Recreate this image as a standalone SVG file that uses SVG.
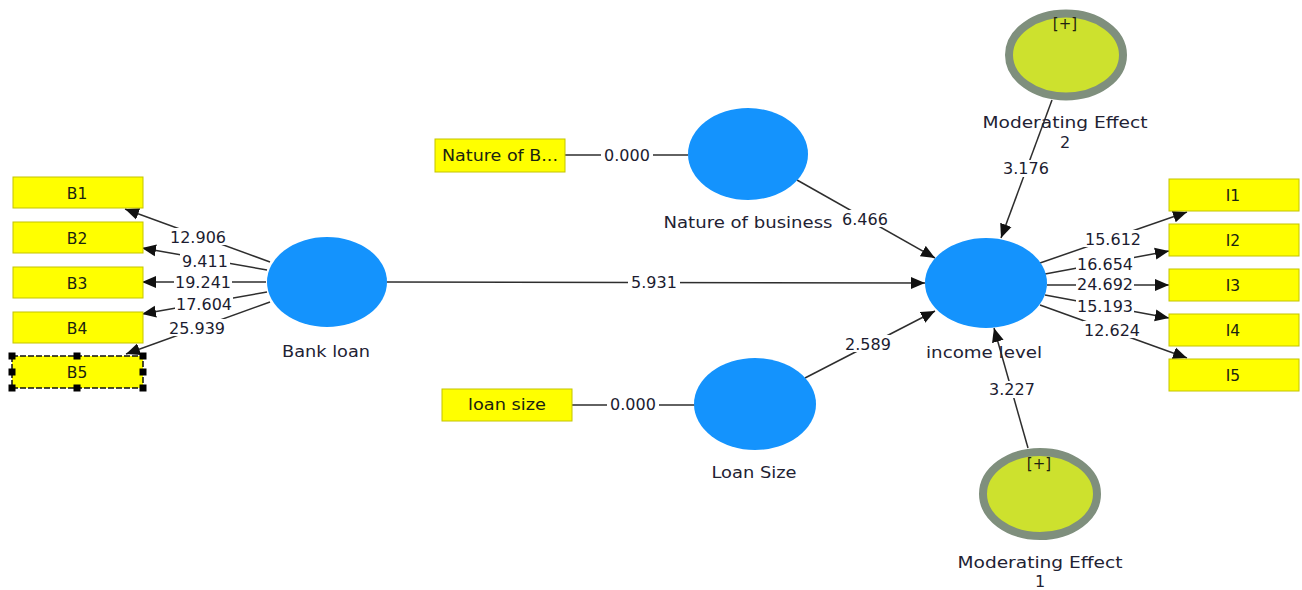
<svg xmlns="http://www.w3.org/2000/svg" width="1302" height="590" viewBox="0 0 1302 590">
  <style>
    .ind rect { fill: #ffff00; stroke: #c4c400; stroke-width: 1; }
    .ind text { font-family: "DejaVu Sans", sans-serif; font-size: 15.5px; fill: #1a2410; text-anchor: middle; }
    .lv { fill: #1493fd; }
    .mod { fill: #cde12e; stroke: #7f8f7d; stroke-width: 8; }
    .lbl { font-family: "DejaVu Sans", sans-serif; font-size: 16px; fill: #222233; text-anchor: middle; }
    .plus { font-family: "DejaVu Sans", sans-serif; font-size: 15px; fill: #1f2410; text-anchor: middle; }
    .edge { stroke: #2e2e2e; stroke-width: 1.5; fill: none; }
    .arr { marker-end: url(#head); }
    .val rect { fill: #fff; }
    .val text { font-family: "DejaVu Sans", sans-serif; font-size: 16px; fill: #1c1c30; text-anchor: middle; }
    .ind rect.sel { fill: #ffff00; stroke: #111; stroke-width: 1.5; stroke-dasharray: 6 2; }
    .ind rect.handle { fill: #000; stroke: none; }
  </style>
  <defs>
    <marker id="head" markerUnits="userSpaceOnUse" markerWidth="15" markerHeight="13" refX="14" refY="6.5" orient="auto">
      <path d="M0,0.5 L14,6.5 L0,12.5 z" fill="#111"/>
    </marker>
  </defs>

  <rect width="1302" height="590" fill="#fff"/>

  <!-- connectors -->
  <g id="connectors">
    <!-- Bank loan outer loadings -->
    <line class="edge arr" x1="270" y1="262" x2="125" y2="209"/>
    <line class="edge arr" x1="267" y1="270" x2="142" y2="248"/>
    <line class="edge arr" x1="266" y1="282" x2="142" y2="282"/>
    <line class="edge arr" x1="267" y1="292" x2="142" y2="314"/>
    <line class="edge arr" x1="270" y1="302" x2="126" y2="354"/>
    <!-- single-item constructs -->
    <line class="edge" x1="565" y1="155" x2="688" y2="155"/>
    <line class="edge" x1="572" y1="405" x2="695" y2="405"/>
    <!-- structural paths -->
    <line class="edge arr" x1="387" y1="282" x2="925" y2="283"/>
    <line class="edge arr" x1="797" y1="180" x2="935" y2="258"/>
    <line class="edge arr" x1="805" y1="378" x2="935" y2="311"/>
    <line class="edge arr" x1="1052" y1="100" x2="1001" y2="238"/>
    <line class="edge arr" x1="1028" y1="448" x2="994" y2="328"/>
    <!-- income level outer loadings -->
    <line class="edge arr" x1="1040" y1="263" x2="1187" y2="212"/>
    <line class="edge arr" x1="1045" y1="274" x2="1169" y2="251"/>
    <line class="edge arr" x1="1047" y1="285" x2="1169" y2="285"/>
    <line class="edge arr" x1="1045" y1="295" x2="1169" y2="318"/>
    <line class="edge arr" x1="1040" y1="305" x2="1187" y2="358"/>

    <!-- path values -->
    <g class="val">
      <rect x="169" y="228" width="58" height="17"/><text x="198" y="242.5">12.906</text>
      <rect x="180" y="252" width="50" height="17"/><text x="205" y="266.5">9.411</text>
      <rect x="174" y="273" width="58" height="17"/><text x="203" y="287.5">19.241</text>
      <rect x="175" y="295" width="58" height="17"/><text x="204" y="309.5">17.604</text>
      <rect x="168" y="319" width="58" height="17"/><text x="197" y="333.5">25.939</text>

      <rect x="601" y="147" width="52" height="17"/><text x="627" y="161">0.000</text>
      <rect x="607" y="397" width="52" height="17"/><text x="633" y="409.5">0.000</text>

      <rect x="628" y="274" width="52" height="17"/><text x="654" y="288">5.931</text>
      <rect x="840" y="210" width="50" height="17"/><text x="865" y="225">6.466</text>
      <rect x="843" y="335" width="50" height="17"/><text x="868" y="350">2.589</text>
      <rect x="1001" y="160" width="50" height="17"/><text x="1026" y="174">3.176</text>
      <rect x="987" y="381" width="50" height="17"/><text x="1012" y="395">3.227</text>

      <rect x="1084" y="230" width="58" height="17"/><text x="1113" y="245">15.612</text>
      <rect x="1076" y="255" width="58" height="17"/><text x="1105" y="270">16.654</text>
      <rect x="1076" y="276" width="58" height="17"/><text x="1105" y="290">24.692</text>
      <rect x="1076" y="297" width="58" height="17"/><text x="1105" y="311.5">15.193</text>
      <rect x="1083" y="321" width="58" height="17"/><text x="1112" y="335.5">12.624</text>
    </g>
  </g>

  <!-- Bank loan indicators -->
  <g id="B1" class="ind"><rect x="13" y="177" width="130" height="31"/><text x="77" y="199">B1</text></g>
  <g id="B2" class="ind"><rect x="13" y="222" width="130" height="31"/><text x="77" y="244">B2</text></g>
  <g id="B3" class="ind"><rect x="13" y="267" width="130" height="31"/><text x="77" y="289">B3</text></g>
  <g id="B4" class="ind"><rect x="13" y="312" width="130" height="31"/><text x="77" y="334">B4</text></g>
  <g id="B5" class="ind">
    <rect class="sel" x="12" y="356" width="131" height="32"/>
    <text x="77" y="378">B5</text>
    <!-- selection handles -->
    <rect class="handle" x="8.5" y="352.5" width="7" height="7"/>
    <rect class="handle" x="73.5" y="352.5" width="7" height="7"/>
    <rect class="handle" x="139.5" y="352.5" width="7" height="7"/>
    <rect class="handle" x="8.5" y="368.5" width="7" height="7"/>
    <rect class="handle" x="139.5" y="368.5" width="7" height="7"/>
    <rect class="handle" x="8.5" y="384.5" width="7" height="7"/>
    <rect class="handle" x="73.5" y="384.5" width="7" height="7"/>
    <rect class="handle" x="139.5" y="384.5" width="7" height="7"/>
  </g>

  <!-- single indicators -->
  <g id="nature-item" class="ind"><rect x="435" y="139" width="130" height="33"/><text x="500" y="161" textLength="116" lengthAdjust="spacingAndGlyphs">Nature of B...</text></g>
  <g id="loan-item" class="ind"><rect x="442" y="389" width="130" height="32"/><text x="507" y="410" textLength="78" lengthAdjust="spacingAndGlyphs">loan size</text></g>

  <!-- income level indicators -->
  <g id="I1" class="ind"><rect x="1169" y="179" width="130" height="32"/><text x="1233" y="200.5">I1</text></g>
  <g id="I2" class="ind"><rect x="1169" y="224" width="130" height="32"/><text x="1233" y="245.5">I2</text></g>
  <g id="I3" class="ind"><rect x="1169" y="269" width="130" height="32"/><text x="1233" y="290.5">I3</text></g>
  <g id="I4" class="ind"><rect x="1169" y="314" width="130" height="32"/><text x="1233" y="335.5">I4</text></g>
  <g id="I5" class="ind"><rect x="1169" y="359" width="130" height="32"/><text x="1233" y="380.5">I5</text></g>

  <!-- latent variables -->
  <g id="bank-loan">
    <ellipse class="lv" cx="327" cy="282" rx="60" ry="45"/>
    <text class="lbl" x="326" y="357" textLength="88" lengthAdjust="spacingAndGlyphs">Bank loan</text>
  </g>
  <g id="nature-of-business">
    <ellipse class="lv" cx="748" cy="154" rx="60" ry="46"/>
    <text class="lbl" x="748" y="228" textLength="169" lengthAdjust="spacingAndGlyphs">Nature of business</text>
  </g>
  <g id="loan-size">
    <ellipse class="lv" cx="755" cy="404" rx="61" ry="46"/>
    <text class="lbl" x="754" y="478" textLength="85" lengthAdjust="spacingAndGlyphs">Loan Size</text>
  </g>
  <g id="income-level">
    <ellipse class="lv" cx="986" cy="283" rx="61" ry="45"/>
    <text class="lbl" x="984" y="358" textLength="116" lengthAdjust="spacingAndGlyphs">income level</text>
  </g>
  <g id="moderating-2">
    <ellipse class="mod" cx="1066" cy="55" rx="57" ry="41.5"/>
    <text class="plus" x="1065" y="29">[+]</text>
    <text class="lbl" x="1065" y="128" textLength="165" lengthAdjust="spacingAndGlyphs">Moderating Effect</text>
    <text class="lbl" x="1065" y="148">2</text>
  </g>
  <g id="moderating-1">
    <ellipse class="mod" cx="1040" cy="494" rx="57" ry="42"/>
    <text class="plus" x="1039" y="469">[+]</text>
    <text class="lbl" x="1040" y="568" textLength="165" lengthAdjust="spacingAndGlyphs">Moderating Effect</text>
    <text class="lbl" x="1040" y="587">1</text>
  </g>
</svg>
